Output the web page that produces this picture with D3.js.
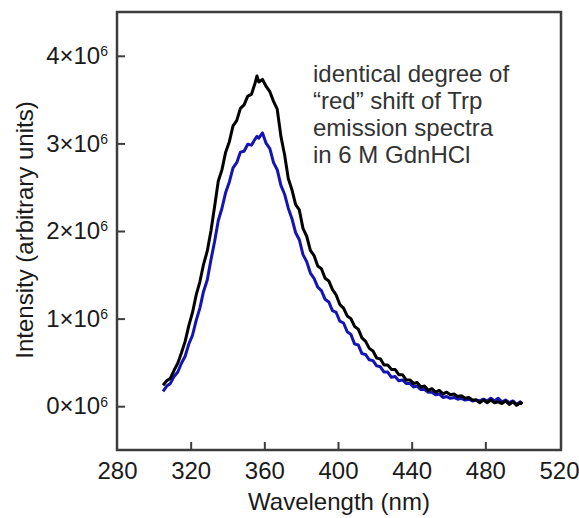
<!DOCTYPE html>
<html>
<head>
<meta charset="utf-8">
<script src="https://cdn.jsdelivr.net/npm/d3@7"></script>
<style>
  body { margin: 0; background: #fff; }
  svg { font-family: "Liberation Sans", Arial, sans-serif; }
</style>
</head>
<body>
<svg id="chart"></svg>
<script>
const wavelengths = [305,307,309,311,313,315,317,319,321,323,325,327,329,331,333,335,337,339,341,343,345,347,349,351,353,355,356,357,359,361,363,365,367,369,371,373,375,377,379,381,383,385,387,389,391,393,395,397,399,401,403,405,407,409,411,413,415,417,419,421,423,425,427,429,431,433,435,437,439,441,443,445,447,449,451,453,455,457,459,461,463,465,467,469,471,473,475,477,479,481,483,485,487,489,491,493,495,497,499,500];

// intensity in units of 1e6
const blackSeries = [0.24,0.29,0.32,0.41,0.49,0.61,0.74,0.92,1.07,1.27,1.42,1.62,1.77,2.00,2.28,2.57,2.70,2.90,3.02,3.20,3.26,3.40,3.44,3.54,3.56,3.69,3.77,3.70,3.73,3.65,3.59,3.48,3.39,3.08,2.87,2.60,2.47,2.30,2.24,2.03,1.94,1.78,1.72,1.60,1.57,1.46,1.43,1.33,1.27,1.16,1.12,1.03,1.00,0.91,0.88,0.78,0.74,0.66,0.63,0.55,0.54,0.47,0.47,0.42,0.42,0.36,0.36,0.30,0.30,0.26,0.27,0.22,0.23,0.18,0.20,0.16,0.18,0.14,0.16,0.13,0.14,0.11,0.12,0.09,0.10,0.07,0.07,0.04,0.07,0.04,0.07,0.04,0.05,0.03,0.06,0.02,0.05,0.01,0.04,0.02];

const blueSeries = [0.17,0.23,0.26,0.34,0.39,0.49,0.57,0.71,0.81,0.98,1.12,1.31,1.44,1.67,1.88,2.12,2.26,2.44,2.56,2.72,2.78,2.90,2.91,2.99,2.98,3.05,3.08,3.06,3.12,3.00,2.94,2.78,2.70,2.52,2.42,2.26,2.14,1.98,1.90,1.73,1.65,1.52,1.46,1.36,1.32,1.22,1.19,1.09,1.07,0.97,0.95,0.85,0.82,0.71,0.70,0.60,0.59,0.53,0.52,0.46,0.45,0.39,0.39,0.33,0.34,0.29,0.30,0.26,0.26,0.22,0.23,0.19,0.19,0.16,0.16,0.13,0.14,0.10,0.11,0.09,0.10,0.08,0.09,0.07,0.08,0.06,0.07,0.06,0.08,0.06,0.09,0.06,0.09,0.05,0.07,0.04,0.06,0.02,0.05,0.03];

const xTicks = [280, 320, 360, 400, 440, 480, 520];
const yTicks = [0, 1, 2, 3, 4];
const annotation = ["identical degree of", "\u201Cred\u201D shift of Trp", "emission spectra", "in 6 M GdnHCl"];

const width = 579, height = 518;
const margin = { top: 12, right: 18, bottom: 68, left: 117 };

const svg = d3.select("#chart")
  .attr("width", width)
  .attr("height", height);

// 520 sits a touch inside the right frame edge, as in the original
const x = d3.scaleLinear()
  .domain([280, 520])
  .range([margin.left, width - margin.right - 2]);

const y = d3.scaleLinear()
  .domain([-0.5, 4.5])
  .range([height - margin.bottom, margin.top]);

const frameColor = "#3d3d3d";

// x axis
const gx = svg.append("g")
  .attr("transform", `translate(0,${height - margin.bottom})`)
  .call(d3.axisBottom(x).tickValues(xTicks).tickSizeInner(-8).tickSizeOuter(0).tickPadding(12));
gx.select(".domain").remove();
gx.selectAll(".tick line").attr("stroke", frameColor).attr("stroke-width", 2);
gx.selectAll(".tick").filter(d => d === 280 || d === 520).select("line").remove();
gx.selectAll("text").attr("font-size", 24).attr("fill", "#1a1a1a").attr("font-family", "Liberation Sans, Arial, sans-serif");
gx.selectAll(".tick").filter(d => d === 520).select("text").attr("text-anchor", "end").attr("x", 20);

// y axis
const gy = svg.append("g")
  .attr("transform", `translate(${margin.left},0)`)
  .call(d3.axisLeft(y).tickValues(yTicks).tickSizeInner(-8).tickSizeOuter(0).tickPadding(9).tickFormat(""));
gy.select(".domain").remove();
gy.selectAll(".tick line").attr("stroke", frameColor).attr("stroke-width", 2);
gy.selectAll(".tick text")
  .attr("font-size", 24)
  .attr("fill", "#1a1a1a")
  .attr("font-family", "Liberation Sans, Arial, sans-serif")
  .each(function (d) {
    const t = d3.select(this);
    t.append("tspan").text(d + "\u00D710");
    t.append("tspan").attr("font-size", 14).attr("dy", "-0.55em").text("6");
  });

// curves
const line = d3.line()
  .x((d, i) => x(wavelengths[i]))
  .y(d => y(d));

svg.append("path")
  .datum(blueSeries)
  .attr("fill", "none")
  .attr("stroke", "#1414b4")
  .attr("stroke-width", 3)
  .attr("stroke-linejoin", "round")
  .attr("d", line);

svg.append("path")
  .datum(blackSeries)
  .attr("fill", "none")
  .attr("stroke", "#000")
  .attr("stroke-width", 3)
  .attr("stroke-linejoin", "round")
  .attr("d", line);

// frame
svg.append("rect")
  .attr("x", margin.left)
  .attr("y", margin.top)
  .attr("width", width - margin.left - margin.right)
  .attr("height", height - margin.top - margin.bottom)
  .attr("fill", "none")
  .attr("stroke", frameColor)
  .attr("stroke-width", 2.5);

// annotation
svg.append("text")
  .attr("font-size", 24)
  .attr("fill", "#333")
  .selectAll("tspan")
  .data(annotation)
  .join("tspan")
  .attr("x", 313)
  .attr("y", (d, i) => 82 + i * 27)
  .text(d => d);

// axis titles
svg.append("text")
  .attr("x", (margin.left + width - margin.right) / 2)
  .attr("y", 510)
  .attr("text-anchor", "middle")
  .attr("font-size", 24)
  .attr("fill", "#1a1a1a")
  .text("Wavelength (nm)");

svg.append("text")
  .attr("transform", `translate(33,230) rotate(-90)`)
  .attr("text-anchor", "middle")
  .attr("font-size", 24)
  .attr("fill", "#1a1a1a")
  .text("Intensity (arbitrary units)");
</script>
</body>
</html>
